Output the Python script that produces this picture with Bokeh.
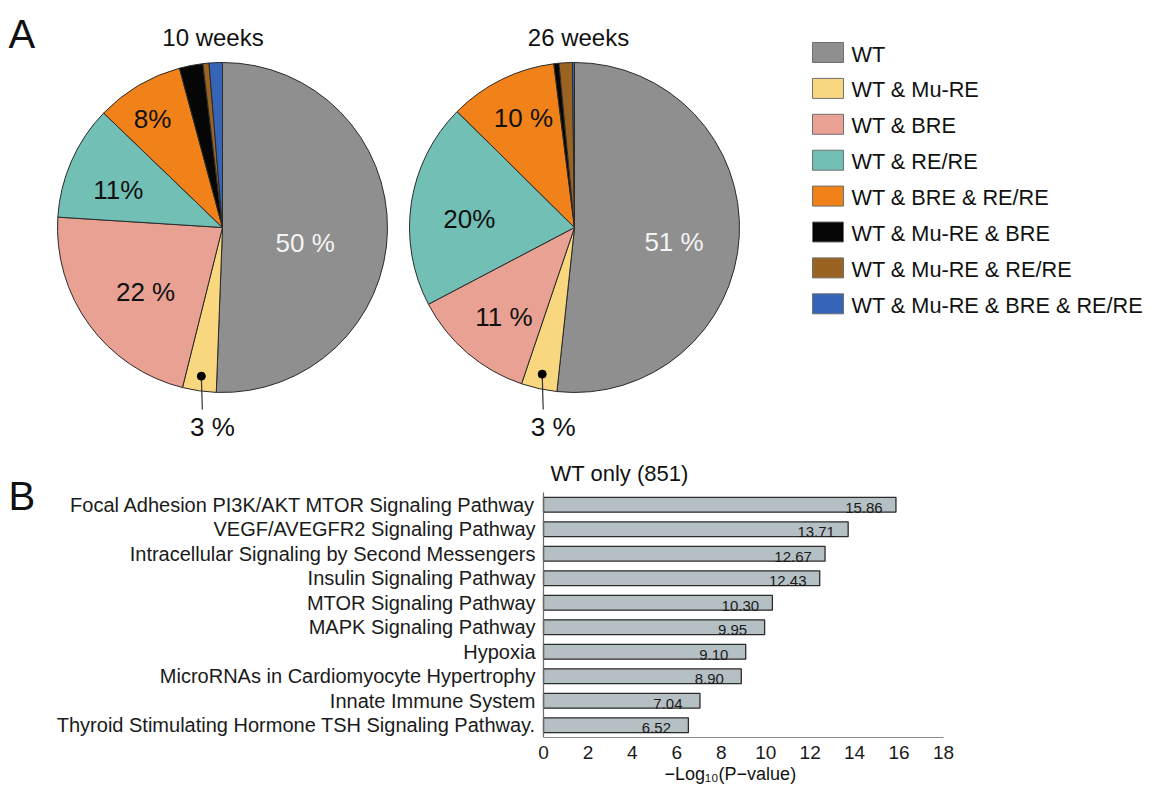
import numpy as np
from bokeh.plotting import figure
from bokeh.models import ColumnDataSource, Range1d, FixedTicker, LinearAxis, Title
from bokeh.core.properties import value
from bokeh.embed import file_html
from bokeh.resources import INLINE

FONT = "Liberation Sans"

# ---------------- data ----------------
groups = ["WT", "WT & Mu-RE", "WT & BRE", "WT & RE/RE", "WT & BRE & RE/RE",
          "WT & Mu-RE & BRE", "WT & Mu-RE & RE/RE", "WT & Mu-RE & BRE & RE/RE"]
group_colors = ["#8f8f8f", "#f9d77e", "#e9a193", "#72bfb5", "#f08219",
                "#060606", "#9a6322", "#3664b6"]
pct_10wk = [50.6, 3.3, 22.1, 11.2, 8.6, 2.3, 0.6, 1.3]
pct_26wk = [51.7, 3.5, 12.1, 20.1, 10.6, 0.5, 1.3, 0.2]
labels_10wk = ["50 %", "3 %", "22 %", "11%", "8%", "", "", ""]
labels_26wk = ["51 %", "3 %", "11 %", "20%", "10 %", "", "", ""]
pie_titles = ["10 weeks", "26 weeks"]

pathways = ["Focal Adhesion PI3K/AKT MTOR Signaling Pathway",
            "VEGF/AVEGFR2 Signaling Pathway",
            "Intracellular Signaling by Second Messengers",
            "Insulin Signaling Pathway",
            "MTOR Signaling Pathway",
            "MAPK Signaling Pathway",
            "Hypoxia",
            "MicroRNAs in Cardiomyocyte Hypertrophy",
            "Innate Immune System",
            "Thyroid Stimulating Hormone TSH Signaling Pathway."]
neglog_p = [15.86, 13.71, 12.67, 12.43, 10.30, 9.95, 9.10, 8.90, 7.04, 6.52]
value_labels = ["15.86", "13.71", "12.67", "12.43", "10.30", "9.95", "9.10", "8.90", "7.04", "6.52"]
x_ticks = [0, 2, 4, 6, 8, 10, 12, 14, 16, 18]
x_max = 18
bar_title = "WT only (851)"
x_label = "\u2212Log\u2081\u2080(P\u2212value)"

# ---------------- layout constants (page pixels) ----------------
W, H = 1153, 787
PAGE_L, PAGE_T = 0, 0
FRAME_BOTTOM = 737               # bar chart baseline (page y)
BAR_L, BAR_R = 543, 943          # page x of 0 and 18 on the bar axis
BAR_T = 492                      # page y of top of bar area
ROW = (FRAME_BOTTOM - BAR_T) / len(pathways)
PPX = (BAR_R - BAR_L) / x_max

p = figure(width=W, height=H,
           x_range=Range1d(PAGE_L, PAGE_L + W), y_range=Range1d(-FRAME_BOTTOM, -PAGE_T),
           x_axis_location=None, y_axis_location=None,
           output_backend="svg", toolbar_location=None,
           min_border_left=0, min_border_right=0, min_border_top=0,
           min_border_bottom=PAGE_T + H - FRAME_BOTTOM)
p.grid.visible = False
p.outline_line_color = None

# extra ranges for the bar chart
p.extra_x_ranges = {"bx": Range1d(-(BAR_L - PAGE_L) / PPX, x_max + (PAGE_L + W - BAR_R) / PPX)}
n_rows = len(pathways)
p.extra_y_ranges = {"by": Range1d(n_rows - 0.5, n_rows - 0.5 - (FRAME_BOTTOM - PAGE_T) / ROW)}


def draw_pie(cx, cy, r, pct, labels, title, title_dx, style):
    frac = np.array(pct, dtype=float) / float(sum(pct))
    cum = np.concatenate([[0.0], np.cumsum(frac)])
    th0 = cum[:-1] * 2 * np.pi           # clockwise from 12 o'clock
    th1 = cum[1:] * 2 * np.pi
    src = ColumnDataSource(dict(start=np.pi / 2 - th1, end=np.pi / 2 - th0, color=group_colors))
    p.wedge(x=cx, y=cy, radius=r, start_angle="start", end_angle="end",
            fill_color="color", line_color="#2a2a2a", line_width=1, source=src)
    mid = (th0 + th1) / 2
    xs, ys, ts, cs = [], [], [], []
    for i, (rho, dang, col) in style.items():
        a = mid[i] + np.deg2rad(dang)
        xs.append(cx + rho * r * np.sin(a))
        ys.append(cy + rho * r * np.cos(a))
        ts.append(labels[i])
        cs.append(col)
    p.text(x=xs, y=ys, text=ts, text_color=cs, text_align="center", text_baseline="middle",
           text_font=value(FONT), text_font_size="26px")
    # call-out for the small yellow slice
    a = mid[1]
    dx = cx + 0.91 * r * np.sin(a)
    dy = cy + 0.91 * r * np.cos(a)
    p.segment(x0=[dx], y0=[dy], x1=[dx + 1], y1=[cy - r - 17], line_color="#333333", line_width=1.2)
    p.scatter(x=[dx], y=[dy], size=8, fill_color="black", line_color="black")
    p.text(x=[dx + 11], y=[cy - r - 34], text=[labels[1]], text_align="center", text_baseline="middle",
           text_font=value(FONT), text_font_size="26px", text_color="#111111")
    p.text(x=[cx + title_dx], y=[-37], text=[title], text_align="center", text_baseline="middle",
           text_font=value(FONT), text_font_size="24px", text_color="#111111")


R = 165
style10 = {0: (0.51, 9.8, "#f4f4f4"), 2: (0.61, -4.0, "#111111"),
           3: (0.67, -4.2, "#111111"), 4: (0.785, -2.1, "#111111")}
style26 = {0: (0.61, 5.5, "#f4f4f4"), 2: (0.69, -2.2, "#111111"),
           3: (0.64, -3.6, "#111111"), 4: (0.73, 1.2, "#111111")}
draw_pie(222, -227, R, pct_10wk, labels_10wk, pie_titles[0], -9.5, style10)
draw_pie(574, -227, R, pct_26wk, labels_26wk, pie_titles[1], 4, style26)

# panel letters
p.text(x=[8, 8], y=[-33, -495], text=["A", "B"], text_align="left", text_baseline="middle",
       text_font=value(FONT), text_font_size="40px", text_color="#111111")

# legend
n = len(groups)
leg_y = -(52 + 35.9 * np.arange(n))
lsrc = ColumnDataSource(dict(y=leg_y, ty=leg_y - 1.5, color=group_colors, name=groups))
p.rect(x=827.5, y="y", width=31, height=20, fill_color="color", line_color="#707070",
       line_width=1, source=lsrc)
p.text(x=851, y="ty", text="name", text_align="left", text_baseline="middle",
       text_font=value(FONT), text_font_size="21.7px", text_color="#111111", source=lsrc)

# ---------------- bar chart ----------------
idx = np.arange(n_rows)
bsrc = ColumnDataSource(dict(y=idx, v=neglog_p, lab=value_labels, name=pathways,
                             lx=np.array(neglog_p) - 32 / PPX))
p.hbar(y="y", left=0, right="v", height=0.61, fill_color="#b5c0c5", line_color="#2b2b2b",
       line_width=1.3, source=bsrc, x_range_name="bx", y_range_name="by")
p.text(x="lx", y="y", text="lab", text_align="center", text_baseline="middle", y_offset=3,
       text_font=value(FONT), text_font_size="15px", text_color="#1a1a1a", source=bsrc,
       x_range_name="bx", y_range_name="by")
p.text(x=0, y="y", text="name", text_align="right", text_baseline="middle", x_offset=-8,
       text_font=value(FONT), text_font_size="20px", text_color="#1a1a1a", source=bsrc,
       x_range_name="bx", y_range_name="by")
# vertical axis line of the bar chart
p.segment(x0=[0], y0=[-0.5], x1=[0], y1=[n_rows - 0.5], line_color="#6a6a6a", line_width=1.2,
          x_range_name="bx", y_range_name="by")
# bar chart title
p.text(x=[550], y=[-473], text=[bar_title], text_align="left", text_baseline="middle",
       text_font=value(FONT), text_font_size="22px", text_color="#111111")

xa = LinearAxis(x_range_name="bx", ticker=FixedTicker(ticks=x_ticks), bounds=(0, x_max))
xa.major_tick_line_color = None
xa.minor_tick_line_color = None
xa.major_tick_out = 0
xa.major_tick_in = 0
xa.axis_line_color = "#8a8a8a"
xa.axis_line_width = 1.2
xa.major_label_text_font = FONT
xa.major_label_text_font_size = "19px"
xa.major_label_text_color = "#1a1a1a"
xa.major_label_standoff = 8
p.add_layout(xa, "below")

p.add_layout(Title(text=x_label, align="left", offset=664 - PAGE_L, standoff=0,
                   text_font=FONT, text_font_size="18px", text_font_style="normal",
                   text_color="#111111"), "below")

open("out.html", "w").write(file_html(p, INLINE))
